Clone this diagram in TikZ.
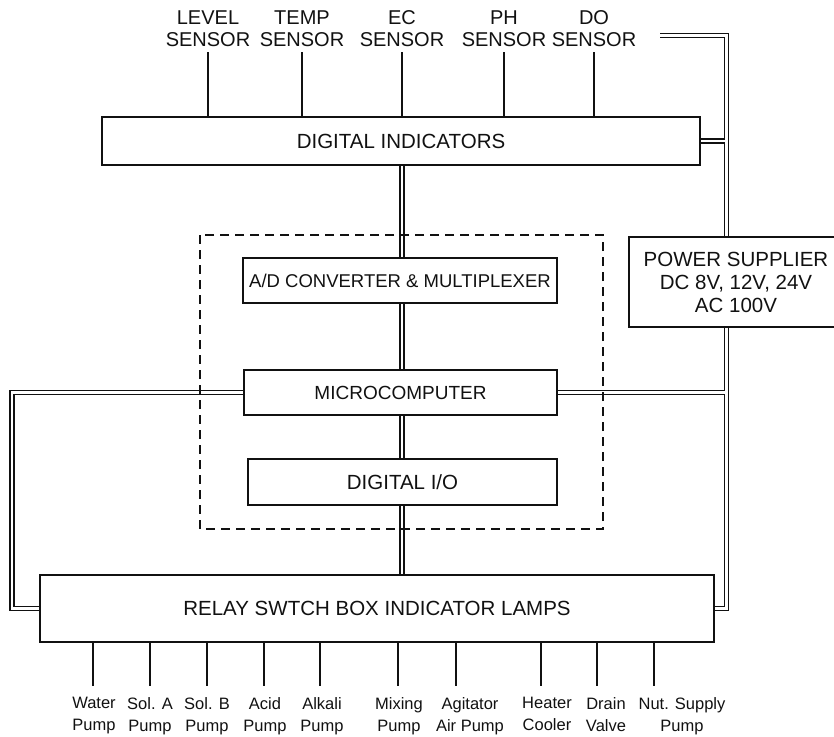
\documentclass[tikz,border=0pt]{standalone}
\usepackage{fontspec}
\setmainfont{Liberation Sans}
\usepackage{xcolor}
\definecolor{schemink}{HTML}{111111}

\begin{document}
\begin{tikzpicture}[x=1pt, y=-1pt,
    every node/.style={schemink},
    blockbox/.style={draw=schemink, line width=2.2pt, inner sep=0pt, align=center,
                     font=\fontsize{20.5}{23}\selectfont},
    busline/.style={draw=schemink, line width=1.5pt, double, double distance=2.3pt},
    sigline/.style={draw=schemink, line width=1.5pt},
    framebox/.style={draw=schemink, line width=1.5pt, dash pattern=on 9pt off 6pt},
    sensorlbl/.style={anchor=south, inner xsep=0pt, inner ysep=5pt, align=center,
                      font=\fontsize{20}{22}\selectfont},
    outlbl/.style={anchor=north, inner xsep=0pt, inner ysep=10pt, align=center,
                   font=\fontsize{16.5}{22}\selectfont}]

  \useasboundingbox (0,0) rectangle (834,736);

  %% ---- blocks ----
  \node[blockbox, minimum width=598pt, minimum height=48pt] (ind) at (401,141) {DIGITAL INDICATORS};
  \node[blockbox, minimum width=314pt, minimum height=45pt, font=\fontsize{18.5}{20}\selectfont]
    (adc) at (400,280.5) {A/D CONVERTER \& MULTIPLEXER};
  \node[blockbox, minimum width=313pt, minimum height=45pt, font=\fontsize{19}{21}\selectfont]
    (mcu) at (400.5,392.5) {MICROCOMPUTER};
  \node[blockbox, minimum width=309pt, minimum height=46pt] (dio) at (402.5,482) {DIGITAL I/O};
  \node[blockbox, minimum width=674pt, minimum height=67pt] (relay) at (377,608.5)
    {RELAY SWTCH BOX INDICATOR LAMPS};
  \node[blockbox, minimum width=214pt, minimum height=90pt] (psu) at (736,282)
    {POWER SUPPLIER\\DC 8V, 12V, 24V\\AC 100V};

  %% ---- wiring helpers ----
  \coordinate (bus) at (402,0);
  \coordinate (feed) at (726.5,0);
  \coordinate (mains) at (660,35.5);
  \coordinate (loopx) at (12,0);

  %% ---- sensors ----
  \node[sensorlbl] (lvl) at (208,52) {LEVEL\\SENSOR};
  \node[sensorlbl] (tmp) at (302,52) {TEMP\\SENSOR};
  \node[sensorlbl] (ecs) at (402,52) {EC\\SENSOR};
  \node[sensorlbl] (phs) at (504,52) {PH\\SENSOR};
  \node[sensorlbl] (dos) at (594,52) {DO\\SENSOR};
  \draw[sigline] (lvl.south) -- (lvl.south |- ind.north);
  \draw[sigline] (tmp.south) -- (tmp.south |- ind.north);
  \draw[sigline] (ecs.south) -- (ecs.south |- ind.north);
  \draw[sigline] (phs.south) -- (phs.south |- ind.north);
  \draw[sigline] (dos.south) -- (dos.south |- ind.north);

  %% ---- central bus ----
  \draw[busline] (ind.south -| bus) -- (adc.north -| bus);
  \draw[busline] (adc.south -| bus) -- (mcu.north -| bus);
  \draw[busline] (mcu.south -| bus) -- (dio.north -| bus);
  \draw[busline] (dio.south -| bus) -- (relay.north -| bus);

  %% ---- power feed ----
  \draw[busline] (mains) -| (psu.north -| feed);
  \draw[busline] (psu.south -| feed) |- (relay.east);
  \draw[busline, shorten >=1.15pt] (ind.east) -- (ind.east -| feed);
  \draw[busline, shorten >=1.15pt] (mcu.east) -- (mcu.east -| feed);

  %% ---- loop from microcomputer to relay box ----
  \draw[busline] (mcu.west) -| (loopx |- relay.west) -- (relay.west);

  %% ---- dashed frame round the controller ----
  \draw[framebox] (200,235) rectangle (603,529);

  %% ---- outputs ----
  \coordinate (o1) at (93,686);
  \coordinate (o2) at (150,686);
  \coordinate (o3) at (207,686);
  \coordinate (o4) at (264,686);
  \coordinate (o5) at (320,686);
  \coordinate (o6) at (398,686);
  \coordinate (o7) at (456,686);
  \coordinate (o8) at (541,686);
  \coordinate (o9) at (597,686);
  \coordinate (o10) at (654,686);
  \foreach \o in {o1,o2,o3,o4,o5,o6,o7,o8,o9,o10}
    \draw[sigline] (relay.south -| \o) -- (\o);

  \node[outlbl] (water) at (94,687) {Water\\Pump};
  \node[outlbl] (sola) at (150,687) {Sol. A\\Pump};
  \node[outlbl] (solb) at (207,687) {Sol. B\\Pump};
  \node[outlbl] (acid) at (265,687) {Acid\\Pump};
  \node[outlbl] (alka) at (322,687) {Alkali\\Pump};
  \node[outlbl] (mixp) at (399,687) {Mixing\\Pump};
  \node[outlbl] (agit) at (470,687) {Agitator\\Air Pump};
  \node[outlbl] (heat) at (547,687) {Heater\\Cooler};
  \node[outlbl] (drain) at (606,687) {Drain\\Valve};
  \node[outlbl] (nuts) at (682,687) {Nut. Supply\\Pump};

\end{tikzpicture}
\end{document}
